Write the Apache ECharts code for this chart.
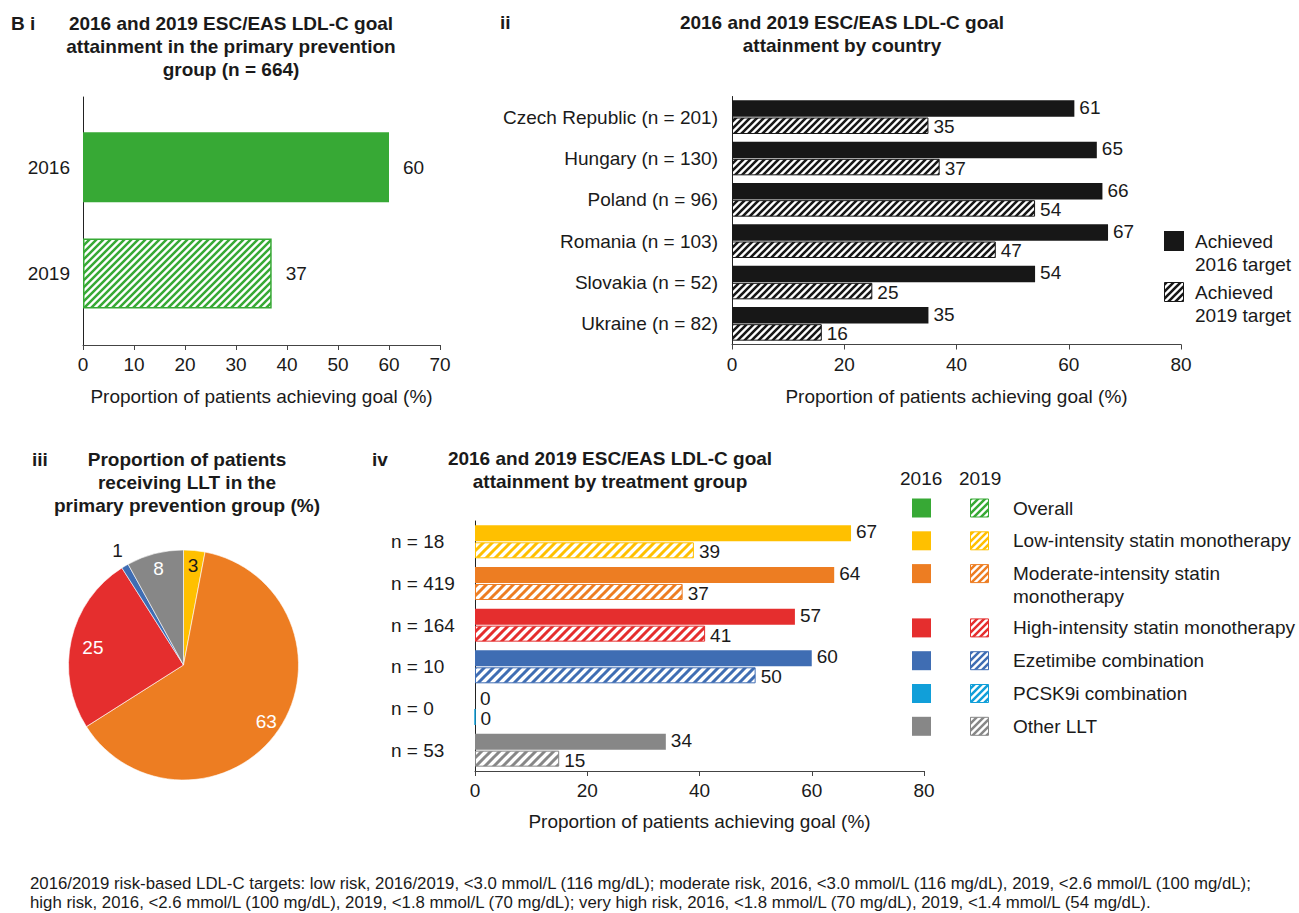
<!DOCTYPE html>
<html>
<head>
<meta charset="utf-8">
<title>LDL-C goal attainment, primary prevention</title>
<script src="https://cdn.jsdelivr.net/npm/echarts/dist/echarts.min.js"></script>
<style>
  html, body { margin: 0; padding: 0; background: #fff; }
  #chart { width: 1299px; height: 913px; }
</style>
</head>
<body>
<div id="chart"></div>
<script>
// ---------- data ----------
// i: overall goal attainment in the primary prevention group
const yearsI = ['2016', '2019'];
const overallPct = [60, 37];

// ii: goal attainment by country
const countries = ['Czech Republic (n = 201)', 'Hungary (n = 130)', 'Poland (n = 96)',
                   'Romania (n = 103)', 'Slovakia (n = 52)', 'Ukraine (n = 82)'];
const achieved2016 = [61, 65, 66, 67, 54, 35];
const achieved2019 = [35, 37, 54, 47, 25, 16];

// iii: share of patients on each lipid-lowering therapy (%)
const lltNames = ['Low-intensity statin monotherapy', 'Moderate-intensity statin monotherapy',
                  'High-intensity statin monotherapy', 'Ezetimibe combination', 'Other LLT'];
const lltShare = [3, 63, 25, 1, 8];

// iv: goal attainment by treatment group
const groupSizes = ['n = 18', 'n = 419', 'n = 164', 'n = 10', 'n = 0', 'n = 53'];
const group2016 = [67, 64, 57, 60, 0, 34];
const group2019 = [39, 37, 41, 50, 0, 15];

// legend for i / iii / iv
const treatmentLegend = ['Overall', 'Low-intensity statin monotherapy',
                         'Moderate-intensity statin\nmonotherapy', 'High-intensity statin monotherapy',
                         'Ezetimibe combination', 'PCSK9i combination', 'Other LLT'];

const footnote = [
  '2016/2019 risk-based LDL-C targets: low risk, 2016/2019, <3.0 mmol/L (116 mg/dL); moderate risk, 2016, <3.0 mmol/L (116 mg/dL), 2019, <2.6 mmol/L (100 mg/dL);',
  'high risk, 2016, <2.6 mmol/L (100 mg/dL), 2019, <1.8 mmol/L (70 mg/dL); very high risk, 2016, <1.8 mmol/L (70 mg/dL), 2019, <1.4 mmol/L (54 mg/dL).'
];

// ---------- styling ----------
const FONT = "'Liberation Sans', Arial, Helvetica, sans-serif";
const INK = '#1a1a1a';
const AXIS = '#444';
const FS = 19;

const COL = {
  overall: '#37A935', low: '#FFC000', moderate: '#ED7D22', high: '#E52E2E',
  eze: '#3F6DB3', pcsk9: '#119FD9', other: '#878787', black: '#171717'
};
const groupColors = [COL.low, COL.moderate, COL.high, COL.eze, COL.pcsk9, COL.other];
const lltColors = [COL.low, COL.moderate, COL.high, COL.eze, COL.other];
const legendColors = [COL.overall, COL.low, COL.moderate, COL.high, COL.eze, COL.pcsk9, COL.other];

// diagonal "/" hatch tile used for the 2019 bars
function hatch(color, size, lw) {
  const cv = document.createElement('canvas');
  cv.width = cv.height = size;
  const g = cv.getContext('2d');
  g.fillStyle = '#fff';
  g.fillRect(0, 0, size, size);
  g.strokeStyle = color;
  g.lineWidth = lw;
  g.beginPath();
  for (let k = -1; k <= 1; k++) {
    g.moveTo(k * size - 1, size + 1);
    g.lineTo(k * size + size + 1, -1);
  }
  g.stroke();
  return { image: cv, repeat: 'repeat', imageWidth: size, imageHeight: size };
}

const valueLabel = (dist, dy) => ({
  show: true, position: 'right', distance: dist, offset: [0, dy || 0],
  color: INK, fontSize: FS, fontFamily: FONT, lineHeight: 16
});

function valueAxis(gridIndex, max, interval, nameGap) {
  return {
    type: 'value', gridIndex, min: 0, max, interval,
    name: 'Proportion of patients achieving goal (%)',
    nameLocation: 'middle', nameGap,
    nameTextStyle: { color: INK, fontSize: FS, fontFamily: FONT },
    axisLine: { show: true, lineStyle: { color: AXIS, width: 1 } },
    axisTick: { show: true, length: 5, lineStyle: { color: AXIS } },
    axisLabel: { color: INK, fontSize: FS, fontFamily: FONT, margin: 10 },
    splitLine: { show: false }
  };
}

function txt(x, y, text, opts) {
  const o = Object.assign({ bold: false, size: FS, align: 'left', valign: 'middle', lh: 23 }, opts || {});
  return {
    type: 'text', x, y, silent: true,
    style: {
      text, fill: INK,
      font: (o.bold ? 'bold ' : '') + o.size + 'px ' + FONT,
      align: o.align, textAlign: o.align,
      verticalAlign: o.valign, textVerticalAlign: o.valign,
      lineHeight: o.lh
    }
  };
}

// ---------- graphic: titles, legends, footnote ----------
const graphics = [
  txt(11, 23, 'B i', { bold: true }),
  txt(231, 46, '2016 and 2019 ESC/EAS LDL-C goal\nattainment in the primary prevention\ngroup (n = 664)', { bold: true, align: 'center' }),
  txt(500, 22, 'ii', { bold: true }),
  txt(842, 34, '2016 and 2019 ESC/EAS LDL-C goal\nattainment by country', { bold: true, align: 'center' }),
  txt(32, 459, 'iii', { bold: true }),
  txt(187, 482, 'Proportion of patients\nreceiving LLT in the\nprimary prevention group (%)', { bold: true, align: 'center' }),
  txt(372, 459, 'iv', { bold: true }),
  txt(610, 470, '2016 and 2019 ESC/EAS LDL-C goal\nattainment by treatment group', { bold: true, align: 'center' }),
];

// legend for panel ii
graphics.push(
  { type: 'rect', silent: true, shape: { x: 1164, y: 231, width: 20, height: 20 }, style: { fill: COL.black } },
  { type: 'rect', silent: true, shape: { x: 1164.5, y: 282.5, width: 19, height: 19 },
    style: { fill: hatch(COL.black, 7, 2.6), stroke: COL.black, lineWidth: 1 } },
  txt(1195, 229.5, 'Achieved\n2016 target', { valign: 'top' }),
  txt(1195, 280.5, 'Achieved\n2019 target', { valign: 'top' })
);

// treatment legend (2016 solid / 2019 hatched)
graphics.push(txt(900, 478, '2016'), txt(959, 478, '2019'));
{
  let yc = 508;
  treatmentLegend.forEach((name, i) => {
    graphics.push(
      { type: 'rect', silent: true, shape: { x: 912, y: yc - 9.5, width: 19, height: 19 },
        style: { fill: legendColors[i] } },
      { type: 'rect', silent: true, shape: { x: 970.5, y: yc - 9, width: 18, height: 18 },
        style: { fill: hatch(legendColors[i], 7, 2.5), stroke: legendColors[i], lineWidth: 1 } },
      txt(1013, yc - 11.5, name, { valign: 'top' })
    );
    yc += 32.8 + (name.split('\n').length - 1) * 21.5;
  });
}

graphics.push(
  txt(30, 883, footnote[0], { size: 16.8 }),
  txt(30, 902, footnote[1], { size: 16.8 })
);

// ---------- chart ----------
const chart = echarts.init(document.getElementById('chart'), null, { renderer: 'svg', width: 1299, height: 913 });

const option = {
  animation: false,
  backgroundColor: '#fff',
  textStyle: { fontFamily: FONT, color: INK },
  grid: [
    { left: 83, top: 97, width: 357, height: 248, outerBoundsMode: 'none' },   // i: axes frame
    { left: 83, top: 114, width: 357, height: 212.5, outerBoundsMode: 'none' },  // i: bars
    { left: 732, top: 96.5, width: 449, height: 248, outerBoundsMode: 'none' },  // ii
    { left: 475, top: 521, width: 449, height: 250, outerBoundsMode: 'none' }    // iv
  ],
  xAxis: [
    valueAxis(0, 70, 10, 42),
    { type: 'value', gridIndex: 1, min: 0, max: 70, show: false },
    valueAxis(2, 80, 20, 42),
    valueAxis(3, 80, 20, 41)
  ],
  yAxis: [
    { type: 'category', gridIndex: 0, data: yearsI,
      axisLine: { show: true, lineStyle: { color: '#222' } },
      axisTick: { show: false }, axisLabel: { show: false } },
    { type: 'category', gridIndex: 1, data: yearsI, inverse: true,
      axisLine: { show: false }, axisTick: { show: false },
      axisLabel: { color: INK, fontSize: FS, fontFamily: FONT, margin: 13 } },
    { type: 'category', gridIndex: 2, data: countries, inverse: true,
      axisLine: { show: true, lineStyle: { color: '#222' } }, axisTick: { show: false },
      axisLabel: { color: INK, fontSize: FS, fontFamily: FONT, margin: 14 } },
    { type: 'category', gridIndex: 3, data: groupSizes, inverse: true,
      axisLine: { show: true, lineStyle: { color: '#222' } }, axisTick: { show: false },
      axisLabel: { color: INK, fontSize: FS, fontFamily: FONT, margin: 84, align: 'left' } }
  ],
  series: [
    // i
    {
      type: 'bar', xAxisIndex: 1, yAxisIndex: 1, barWidth: 70, silent: true,
      data: overallPct.map((v, i) => ({
        value: v,
        itemStyle: yearsI[i] === '2016'
          ? { color: COL.overall }
          : { color: hatch(COL.overall, 7, 2.5), borderColor: COL.overall, borderWidth: 1.5 }
      })),
      label: valueLabel(14)
    },
    // ii
    {
      type: 'bar', name: 'Achieved 2016 target', xAxisIndex: 2, yAxisIndex: 2,
      barWidth: 16.5, barGap: '4%', silent: true,
      data: achieved2016, itemStyle: { color: COL.black }, label: valueLabel(5, -1)
    },
    {
      type: 'bar', name: 'Achieved 2019 target', xAxisIndex: 2, yAxisIndex: 2,
      barWidth: 16.5, barGap: '4%', silent: true,
      data: achieved2019,
      itemStyle: { color: hatch(COL.black, 7, 2.6), borderColor: COL.black, borderWidth: 1 },
      label: valueLabel(5, 1)
    },
    // iii: slices
    {
      type: 'pie', center: [183.5, 665], radius: 115, startAngle: 90, clockwise: true, silent: true,
      label: { show: false }, labelLine: { show: false },
      itemStyle: { borderColor: '#fff', borderWidth: 0.6 },
      data: lltNames.map((n, i) => ({ name: n, value: lltShare[i], itemStyle: { color: lltColors[i] } }))
    },
    // iii: value labels, laid out on a transparent ring
    {
      type: 'pie', center: [183.5, 665], radius: [70, 124], startAngle: 90, clockwise: true, silent: true,
      itemStyle: { color: 'rgba(0,0,0,0)', borderWidth: 0 },
      label: { show: true, position: 'inside', formatter: '{c}', fontSize: FS, fontFamily: FONT, color: '#fff' },
      labelLine: { show: false },
      labelLayout: (p) => {
        const shift = { 2: [7, 4], 3: [-15, -28] }[p.dataIndex];
        return shift ? { dx: shift[0], dy: shift[1] } : {};
      },
      data: lltNames.map((n, i) => ({
        name: n, value: lltShare[i],
        label: { color: (lltColors[i] === COL.low || lltColors[i] === COL.eze) ? INK : '#fff' }
      }))
    },
    // iv
    {
      type: 'bar', name: '2016', xAxisIndex: 3, yAxisIndex: 3, barWidth: 16, barGap: '6%', silent: true,
      data: group2016.map((v, i) => ({ value: v, itemStyle: { color: groupColors[i] } })),
      label: valueLabel(5, -1.5)
    },
    {
      type: 'bar', name: '2019', xAxisIndex: 3, yAxisIndex: 3, barWidth: 16, barGap: '6%', silent: true,
      data: group2019.map((v, i) => ({
        value: v,
        itemStyle: { color: hatch(groupColors[i], 9, 3), borderColor: groupColors[i], borderWidth: 1 }
      })),
      label: valueLabel(5, 1.5)
    }
  ],
  graphic: graphics
};

chart.setOption(option);
</script>
</body>
</html>
